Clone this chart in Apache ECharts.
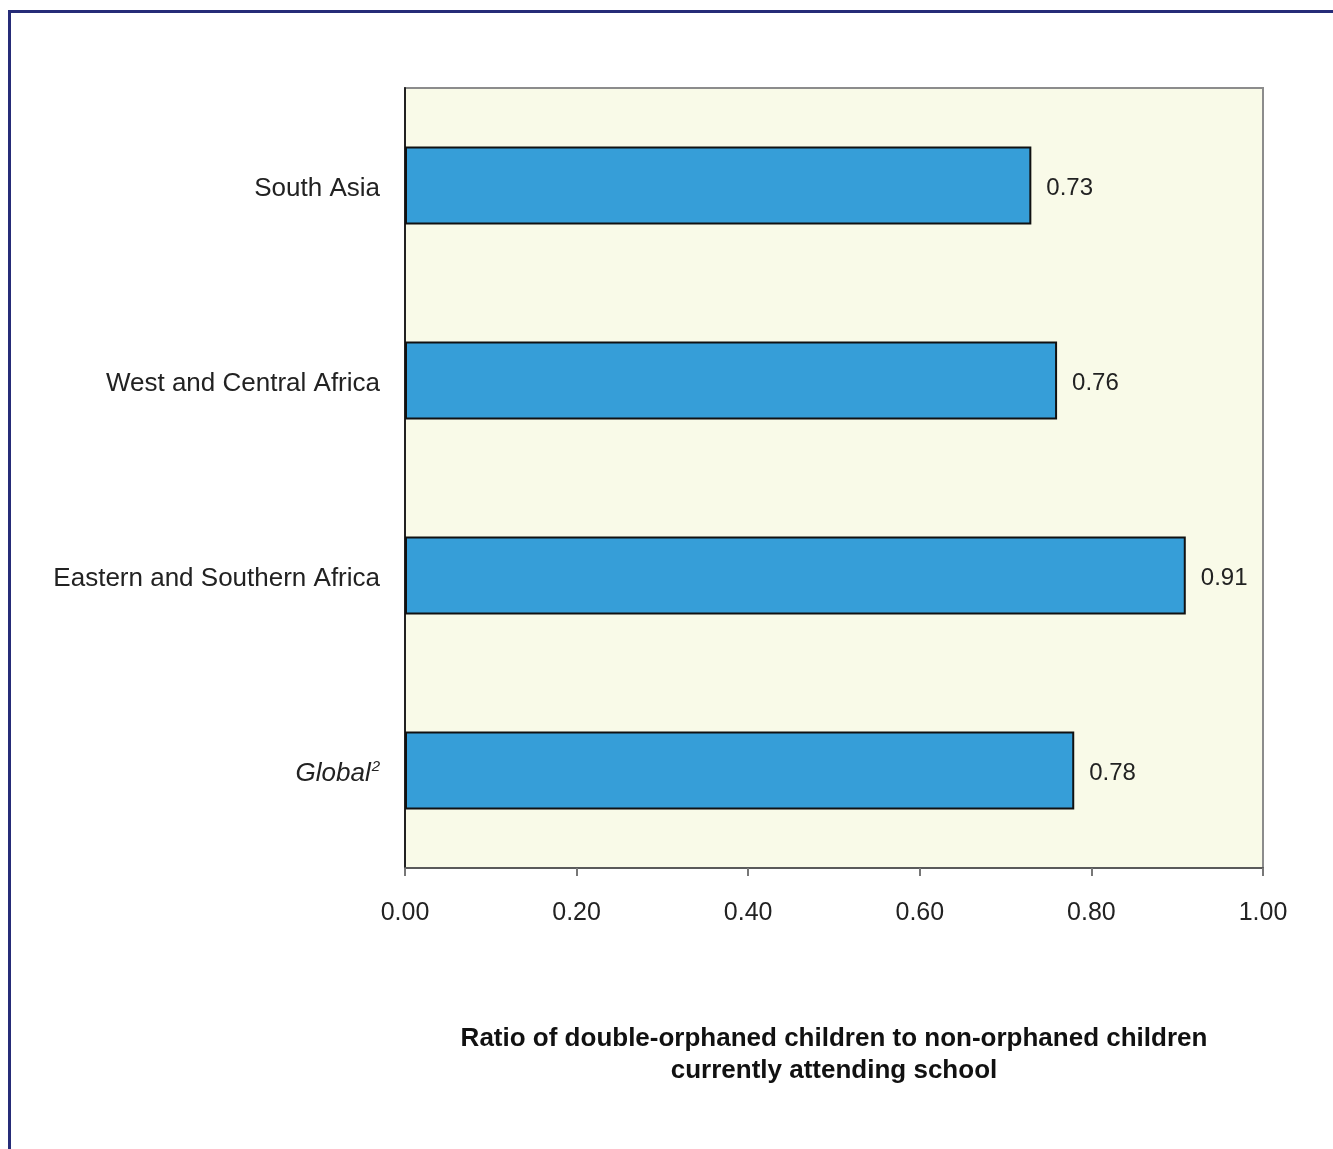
<!DOCTYPE html>
<html><head><meta charset="utf-8">
<script src="https://cdn.jsdelivr.net/npm/echarts@6/dist/echarts.min.js"></script>
<style>html,body{margin:0;padding:0;background:#fff;}#c{width:1333px;height:1149px;}</style>
</head><body><div id="c"></div>
<script>
const categories = ['South Asia', 'West and Central Africa', 'Eastern and Southern Africa', 'Global'];
const values = [0.73, 0.76, 0.91, 0.78];
const xTicks = [0, 0.2, 0.4, 0.6, 0.8, 1.0];
const axisTitle = 'Ratio of double-orphaned children to non-orphaned children\ncurrently attending school';

const chart = echarts.init(document.getElementById('c'), null, {renderer: 'canvas'});
chart.setOption({
  backgroundColor: '#fff',
  animation: false,
  textStyle: {fontFamily: 'Liberation Sans, Arial, sans-serif'},
  graphic: [
    {type: 'rect', shape: {x: 8, y: 10, width: 1400, height: 3}, style: {fill: '#262C78'}},
    {type: 'rect', shape: {x: 8, y: 10, width: 3, height: 1200}, style: {fill: '#262C78'}}
  ],
  grid: {left: 405, right: 70, top: 88, bottom: 281, show: true, backgroundColor: '#F9FAE8', borderColor: '#8C8C8C', borderWidth: 2},
  xAxis: {
    type: 'value', min: 0, max: 1, interval: 0.2,
    axisLine: {show: true, lineStyle: {color: '#5a5a5a', width: 2}},
    axisTick: {show: true, length: 8, lineStyle: {color: '#777', width: 2}},
    splitLine: {show: false},
    axisLabel: {margin: 33, fontSize: 25, color: '#222', formatter: v => v.toFixed(2)},
    name: axisTitle, nameLocation: 'middle', nameGap: 155,
    nameTextStyle: {fontSize: 26, fontWeight: 'bold', color: '#111', lineHeight: 32, align: 'center'}
  },
  yAxis: {
    type: 'category', data: categories, inverse: true,
    axisLine: {show: true, lineStyle: {color: '#222', width: 2}},
    axisTick: {show: false},
    axisLabel: {
      margin: 25, fontSize: 26, color: '#222', padding: [6, 0, 0, 0],
      formatter: v => v === 'Global' ? '{it|Global}{sup|2}' : v,
      rich: {
        it: {fontSize: 26, fontStyle: 'italic', color: '#222'},
        sup: {fontSize: 15, fontStyle: 'italic', color: '#222', verticalAlign: 'top', padding: [0, 0, 14, 1]}
      }
    }
  },
  series: [{
    type: 'bar', data: values, barWidth: '40%',
    itemStyle: {color: '#369ED8', borderColor: '#111', borderWidth: 2},
    label: {show: true, position: 'right', distance: 15, offset: [0, 3], fontSize: 24, color: '#222', formatter: p => p.value.toFixed(2)}
  }]
});
</script></body></html>
